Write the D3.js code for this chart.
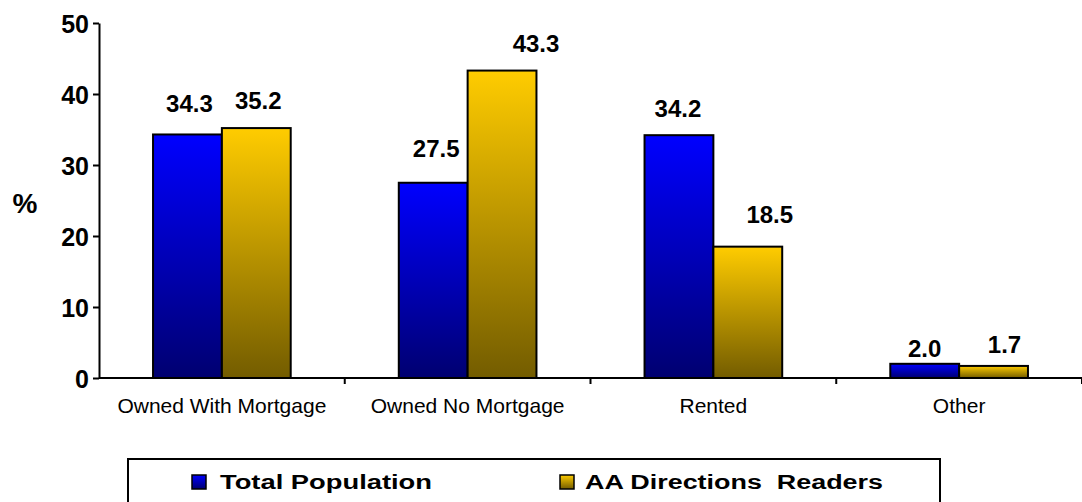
<!DOCTYPE html>
<html>
<head>
<meta charset="utf-8">
<script src="https://cdn.jsdelivr.net/npm/d3@7"></script>
<style>
  html, body { margin: 0; padding: 0; background: #fff; }
  svg { display: block; }
</style>
</head>
<body>
<svg id="chart" width="1082" height="502"></svg>
<script>
// Housing tenure: share of each group (%)
const categories = ["Owned With Mortgage", "Owned No Mortgage", "Rented", "Other"];
const seriesNames = ["Total Population", "AA Directions Readers"];
const totalPopulation = [34.3, 27.5, 34.2, 2.0];
const aaReaders = [35.2, 43.3, 18.5, 1.7];
const yTicks = [0, 10, 20, 30, 40, 50];

// Hand-placed value label nudges, [dx, gap above bar] per series and category
const labelNudge = [
  [[2, 22], [3, 26], [-1, 18], [0, 7]],
  [[2, 19], [34, 19], [22, 24], [11, 13]]
];

const seriesValues = [totalPopulation, aaReaders];

const svg = d3.select("#chart");
const margin = { left: 99, right: 0, top: 23, bottom: 124 };
const W = 1082, H = 502;
const sans = "Liberation Sans, Arial, Helvetica, sans-serif";

const x = d3.scaleBand().domain(categories).range([margin.left, W]).paddingInner(0).paddingOuter(0);
const y = d3.scaleLinear().domain([0, 50]).range([H - margin.bottom, margin.top]);
const xs = d3.scaleBand().domain(d3.range(seriesNames.length)).range([0, x.bandwidth()]).paddingInner(0).paddingOuter(0.785);

// Vertical gradients for the bar fills
const defs = svg.append("defs");
const grads = [
  { id: "gBlue", top: "#0000ff", bottom: "#000070" },
  { id: "gGold", top: "#ffcc00", bottom: "#735c00" }
];
grads.forEach(g => {
  const lg = defs.append("linearGradient").attr("id", g.id)
    .attr("x1", 0).attr("y1", 0).attr("x2", 0).attr("y2", 1);
  lg.append("stop").attr("offset", "0%").attr("stop-color", g.top);
  lg.append("stop").attr("offset", "100%").attr("stop-color", g.bottom);
});

// Bars
const rows = [];
categories.forEach((c, i) => seriesValues.forEach((vals, s) => rows.push({ c, i, s, v: vals[i] })));

svg.append("g").selectAll("rect").data(rows).join("rect")
  .attr("x", d => x(d.c) + xs(d.s))
  .attr("y", d => y(d.v))
  .attr("width", xs.bandwidth())
  .attr("height", d => y(0) - y(d.v))
  .attr("fill", d => `url(#${grads[d.s].id})`)
  .attr("stroke", "#000")
  .attr("stroke-width", 2);

// Value labels
svg.append("g").selectAll("text").data(rows).join("text")
  .attr("x", d => x(d.c) + xs(d.s) + xs.bandwidth() / 2 + labelNudge[d.s][d.i][0])
  .attr("y", d => y(d.v) - labelNudge[d.s][d.i][1])
  .attr("text-anchor", "middle")
  .attr("font-family", sans)
  .attr("font-weight", "bold")
  .attr("font-size", 24)
  .attr("fill", "#000")
  .text(d => d.v.toFixed(1));

// Y axis
const yAxis = svg.append("g").attr("transform", `translate(${margin.left},0)`)
  .call(d3.axisLeft(y).tickValues(yTicks).tickSize(6).tickPadding(4).tickSizeOuter(0));
yAxis.select(".domain").attr("stroke", "#000").attr("stroke-width", 2);
yAxis.selectAll(".tick line").attr("stroke", "#000").attr("stroke-width", 2);
yAxis.selectAll(".tick text")
  .attr("font-family", sans)
  .attr("font-weight", "bold")
  .attr("font-size", 25)
  .attr("fill", "#000")
  .attr("dy", "0.36em");

// X axis with ticks between categories
const xAxis = svg.append("g").attr("transform", `translate(0,${y(0)})`);
xAxis.append("line")
  .attr("x1", margin.left).attr("x2", W)
  .attr("y1", 0).attr("y2", 0)
  .attr("stroke", "#000").attr("stroke-width", 2);
xAxis.selectAll("line.sep").data(categories).join("line").attr("class", "sep")
  .attr("x1", d => x(d) + x.bandwidth()).attr("x2", d => x(d) + x.bandwidth())
  .attr("y1", 0).attr("y2", 6)
  .attr("stroke", "#000").attr("stroke-width", 2);
xAxis.selectAll("text").data(categories).join("text")
  .attr("x", d => x(d) + x.bandwidth() / 2)
  .attr("y", 35)
  .attr("text-anchor", "middle")
  .attr("font-family", sans)
  .attr("font-size", 21)
  .attr("fill", "#000")
  .text(d => d);

// Axis title
svg.append("text")
  .attr("x", 25).attr("y", 213)
  .attr("text-anchor", "middle")
  .attr("font-family", sans)
  .attr("font-weight", "bold")
  .attr("font-size", 28)
  .text("%");

// Legend: wide bold entries inside a bordered box
const legend = svg.append("g");
legend.append("rect")
  .attr("x", 128).attr("y", 459)
  .attr("width", 812).attr("height", 60)
  .attr("fill", "#fff").attr("stroke", "#000").attr("stroke-width", 2);
const legendX = [192, 560];
const legendTextWidth = [212, 298];
const items = legend.selectAll("g.item").data(seriesNames).join("g").attr("class", "item")
  .attr("transform", (d, i) => `translate(${legendX[i]},0)`);
items.append("rect")
  .attr("x", 0).attr("y", 475).attr("width", 14).attr("height", 14)
  .attr("fill", (d, i) => `url(#${grads[i].id})`)
  .attr("stroke", "#000").attr("stroke-width", 1.5);
items.append("text")
  .attr("x", (d, i) => i === 0 ? 28 : 25).attr("y", 489)
  .attr("font-family", sans)
  .attr("font-weight", "bold")
  .attr("font-size", 20)
  .attr("textLength", (d, i) => legendTextWidth[i])
  .attr("lengthAdjust", "spacingAndGlyphs")
  .attr("fill", "#000")
  .attr("xml:space", "preserve")
  .text(d => d === "AA Directions Readers" ? "AA Directions  Readers" : d);
</script>
</body>
</html>
